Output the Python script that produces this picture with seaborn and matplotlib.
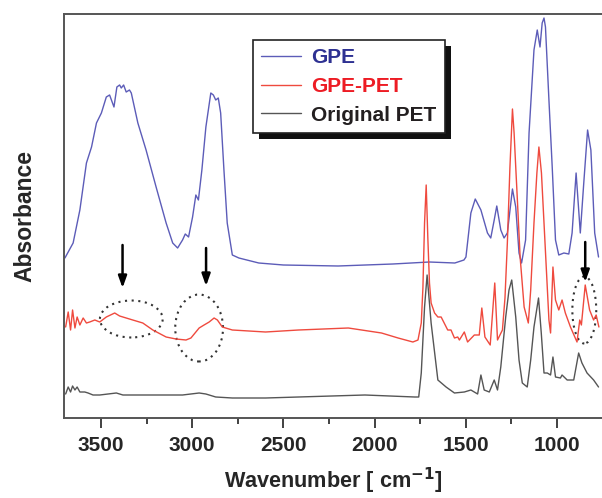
import numpy as np
import pandas as pd
import seaborn as sns
import matplotlib
matplotlib.use("Agg")
import matplotlib.pyplot as plt
from matplotlib.patches import Ellipse, Rectangle
from matplotlib.transforms import IdentityTransform

# ---------------- data ----------------
gpe_wn = [3698, 3653, 3616, 3580, 3552, 3525, 3498, 3471, 3453, 3429, 3413, 3398, 3389, 3376, 3362, 3344,
          3334, 3298, 3253, 3198, 3143, 3107, 3080, 3053, 3038, 3020, 2998, 2980, 2966, 2947, 2925, 2898,
          2884, 2871, 2857, 2844, 2826, 2808, 2780, 2744, 2635, 2500, 2200, 1900, 1700, 1560, 1510, 1499,
          1472, 1448, 1417, 1381, 1363, 1344, 1330, 1308, 1290, 1272, 1244, 1226, 1208, 1194, 1172, 1153,
          1126, 1108, 1093, 1081, 1071, 1063, 1044, 1026, 1008, 990, 962, 935, 917, 895, 872, 853, 832,
          814, 793, 772]
gpe_abs = [1.60, 1.75, 2.08, 2.55, 2.71, 2.95, 3.05, 3.21, 3.23, 3.11, 3.31, 3.33, 3.30, 3.33, 3.26, 3.28,
           3.25, 2.95, 2.68, 2.31, 1.95, 1.75, 1.70, 1.78, 1.84, 1.81, 2.01, 2.23, 2.18, 2.48, 2.91, 3.25,
           3.23, 3.18, 3.20, 3.05, 2.48, 1.95, 1.63, 1.60, 1.55, 1.53, 1.52, 1.54, 1.56, 1.55, 1.58, 1.61,
           2.05, 2.19, 2.08, 1.85, 1.80, 1.98, 2.12, 1.88, 1.80, 1.85, 2.29, 2.11, 1.65, 1.55, 1.78, 2.85,
           3.68, 3.88, 3.71, 3.95, 4.00, 3.91, 3.18, 2.51, 1.78, 1.63, 1.65, 1.64, 1.85, 2.45, 1.85, 2.35, 2.88,
           2.68, 1.85, 1.61]

gpepet_wn = [3694, 3680, 3667, 3656, 3643, 3631, 3616, 3598, 3580, 3562,
             3534, 3507, 3471, 3425, 3398, 3326, 3271, 3216, 3143, 3089,
             3034, 3007, 2962, 2935, 2907, 2880, 2862, 2835, 2780, 2598,
             2417, 2144, 1962, 1871, 1790, 1762, 1744, 1735, 1726, 1717,
             1708, 1699, 1690, 1671, 1653, 1635, 1599, 1581, 1562, 1544,
             1535, 1508, 1490, 1453, 1426, 1412, 1395, 1366, 1341, 1326,
             1299, 1285, 1272, 1258, 1244, 1235, 1226, 1217, 1202, 1180,
             1157, 1144, 1126, 1110, 1099, 1085, 1071, 1044, 1035, 1022,
             1008, 990, 972, 954, 926, 890, 875, 866, 845, 821,
             799, 785, 770]
gpepet_abs = [0.91, 1.06, 0.88, 1.08, 0.90, 1.01, 0.93, 1.00, 0.95, 0.96,
              0.98, 0.96, 1.01, 1.05, 1.02, 0.98, 0.95, 0.88, 0.81, 0.79,
              0.78, 0.80, 0.90, 0.93, 0.96, 1.00, 0.98, 0.91, 0.88, 0.86,
              0.88, 0.90, 0.85, 0.80, 0.76, 0.78, 0.95, 1.30, 1.95, 2.33,
              1.80, 1.35, 1.15, 1.05, 1.01, 1.01, 0.88, 0.88, 0.80, 0.81,
              0.78, 0.86, 0.76, 0.83, 0.83, 1.10, 0.81, 0.73, 1.35, 0.78,
              0.88, 1.20, 1.75, 2.50, 3.09, 2.85, 2.51, 2.18, 1.61, 1.11,
              0.95, 1.28, 1.95, 2.45, 2.71, 2.45, 1.95, 0.98, 0.85, 1.51,
              1.18, 1.08, 1.18, 1.05, 0.91, 0.76, 0.98, 0.93, 1.33, 1.08,
              0.98, 1.03, 0.91]

pet_wn = [3694, 3680, 3667, 3656, 3643, 3631, 3616, 3589, 3571, 3544,
          3507, 3416, 3380, 3234, 3053, 2962, 2925, 2871, 2780, 2598,
          2417, 2053, 1780, 1758, 1744, 1726, 1712, 1690, 1653, 1608,
          1562, 1508, 1472, 1435, 1417, 1399, 1371, 1344, 1326, 1308,
          1281, 1263, 1248, 1226, 1208, 1190, 1163, 1144, 1126, 1101,
          1086, 1071, 1053, 1035, 1022, 1008, 981, 972, 944, 908,
          881, 863, 835, 799, 772]
pet_abs = [0.24, 0.31, 0.26, 0.32, 0.28, 0.31, 0.26, 0.26, 0.25, 0.23,
           0.23, 0.25, 0.23, 0.23, 0.23, 0.25, 0.24, 0.21, 0.20, 0.20,
           0.21, 0.23, 0.21, 0.21, 0.45, 1.11, 1.43, 0.95, 0.38, 0.31,
           0.25, 0.26, 0.28, 0.24, 0.43, 0.28, 0.26, 0.38, 0.28, 0.51,
           1.01, 1.28, 1.38, 1.01, 0.58, 0.35, 0.31, 0.58, 0.91, 1.20,
           0.85, 0.45, 0.45, 0.43, 0.61, 0.41, 0.40, 0.43, 0.38, 0.38,
           0.65, 0.55, 0.45, 0.38, 0.31]

series_names = ["GPE", "GPE-PET", "Original PET"]
line_colors = ["#5c5cb8", "#ef4a3e", "#555555"]
text_colors = ["#2e3192", "#ed1c24", "#231f20"]
xticks = [3500, 3000, 2500, 2000, 1500, 1000]
xticks_minor = [3250, 2750, 2250, 1750, 1250]

# annotations: arrows (wavenumber, y_start, y_end) and dotted ellipses (wn, y, width, height)
arrows = [(3382, 1.73, 1.30), (2924, 1.70, 1.32), (845, 1.76, 1.36)]
ellipses = [(3334, 0.99, 344, 0.37), (2962, 0.90, 262, 0.67), (850, 1.08, 131, 0.67)]

# ---------------- plot ----------------
sns.set_style("white")
plt.rcParams['font.family'] = ['Liberation Sans', 'DejaVu Sans']
plt.rcParams['font.weight'] = 'bold'
plt.rcParams['mathtext.default'] = 'bf'

fig = plt.figure(figsize=(6.02, 4.98), dpi=100)
ax = fig.add_axes([64 / 602, 80 / 498, 538 / 602, 404 / 498])

frames = []
for name, wn, ab in [(series_names[0], gpe_wn, gpe_abs),
                     (series_names[1], gpepet_wn, gpepet_abs),
                     (series_names[2], pet_wn, pet_abs)]:
    frames.append(pd.DataFrame({"wn": wn, "abs": ab, "series": name}))
df = pd.concat(frames, ignore_index=True)

for name, col in zip(series_names, line_colors):
    sub = df[df["series"] == name]
    sns.lineplot(data=sub, x="wn", y="abs", color=col, lw=1.0, ax=ax, label=name,
                 estimator=None, sort=True)

ax.set_xlim(3703, 753)
ax.set_ylim(0, 4.04)
ax.set_xticks(xticks)
ax.set_xticklabels([str(t) for t in xticks], fontsize=15, fontweight='bold')
ax.set_xticks(xticks_minor, minor=True)
ax.set_yticks([])
ax.tick_params(axis='x', which='major', direction='out', length=7, width=1.3, color='#333333', pad=6)
ax.tick_params(axis='x', which='minor', direction='out', length=4, width=1.3, color='#333333')
ax.tick_params(axis='x', which='both', bottom=True, top=False)

for s in ['left', 'bottom', 'top']:
    ax.spines[s].set_color('#555555')
    ax.spines[s].set_linewidth(1.4)
ax.spines['right'].set_visible(False)

ax.set_xlabel("Wavenumber [ cm$^{-1}$]", fontsize=15.6, fontweight='bold', labelpad=8)
ax.set_ylabel("Absorbance", fontsize=16.5, fontweight='bold', labelpad=20)

for wn, y0, y1 in arrows:
    ax.annotate("", xy=(wn, y1), xytext=(wn, y0),
                arrowprops=dict(arrowstyle='-|>,head_length=0.7,head_width=0.25', color='black',
                                lw=1.8, shrinkA=0, shrinkB=0))
for wn, y, w, h in ellipses:
    ax.add_patch(Ellipse((wn, y), w, h, fill=False, ec='#333333', ls=(0, (1, 2.2)), lw=1.5))

leg = ax.legend(loc='upper left', bbox_to_anchor=(0.351, 0.936), borderaxespad=0,
                frameon=True, fancybox=False, prop={'weight': 'bold', 'size': 15},
                handlelength=1.9, handletextpad=0.5, labelspacing=0.47, borderpad=0.4)
leg.get_frame().set_edgecolor('#222222')
leg.get_frame().set_linewidth(1.2)
leg.get_frame().set_alpha(1)
leg.set_zorder(10)
for t, c in zip(leg.get_texts(), text_colors):
    t.set_color(c)
for h in leg.get_lines():
    h.set_linewidth(1.0)

fig.canvas.draw()
bb = leg.get_window_extent()
off = 6
shadow = Rectangle((bb.x0 + off, bb.y0 - off), bb.width, bb.height,
                   facecolor='#111111', edgecolor='none', zorder=9, clip_on=False)
shadow.set_transform(IdentityTransform())
ax.add_artist(shadow)

fig.savefig("out.png", dpi=100)
